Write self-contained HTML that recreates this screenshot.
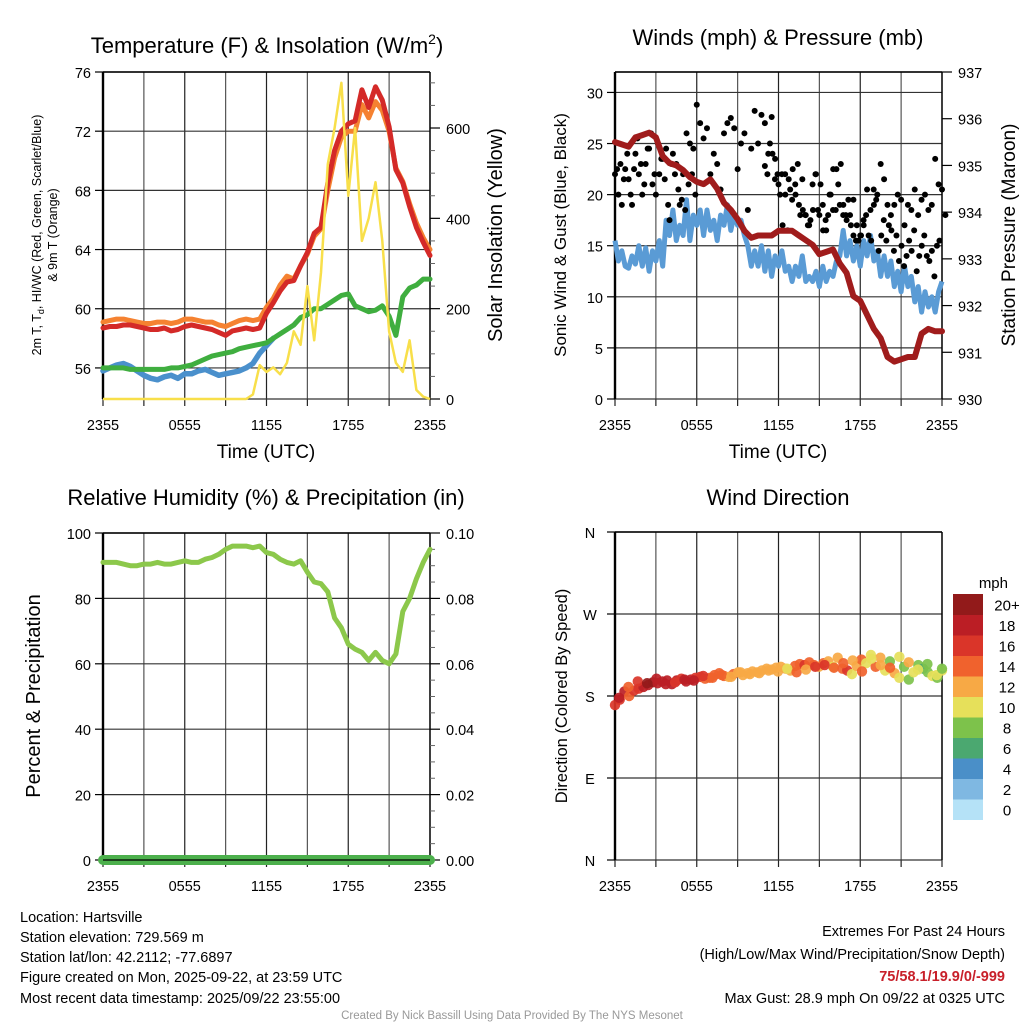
<!DOCTYPE html>
<html><head><meta charset="utf-8"><style>
html,body{margin:0;padding:0;background:#fff;}
svg{display:block;font-family:"Liberation Sans",sans-serif;}
</style></head><body>
<svg id="fig" width="1024" height="1024" viewBox="0 0 1024 1024" xmlns="http://www.w3.org/2000/svg">
<rect width="1024" height="1024" fill="#fff"/>
<g id="static" fill="#000">
<text x="267" y="53" font-size="22" text-anchor="middle">Temperature (F) &amp; Insolation (W/m<tspan dy="-9" font-size="14">2</tspan><tspan dy="9">)</tspan></text>
<text x="778" y="45" font-size="22" text-anchor="middle">Winds (mph) &amp; Pressure (mb)</text>
<text x="266" y="505" font-size="22" text-anchor="middle">Relative Humidity (%) &amp; Precipitation (in)</text>
<text x="778" y="505" font-size="22" text-anchor="middle">Wind Direction</text>
<text x="266" y="458" font-size="19" text-anchor="middle">Time (UTC)</text>
<text x="778" y="458" font-size="19" text-anchor="middle">Time (UTC)</text>
<text transform="translate(41,235) rotate(-90)" font-size="12.5" text-anchor="middle">2m T, T<tspan dy="3" font-size="9">d</tspan><tspan dy="-3">, HI/WC (Red, Green, Scarlet/Blue)</tspan></text>
<text transform="translate(57,235) rotate(-90)" font-size="12.5" text-anchor="middle">&amp; 9m T (Orange)</text>
<text transform="translate(502,235) rotate(-90)" font-size="20" text-anchor="middle">Solar Insolation (Yellow)</text>
<text transform="translate(566,235) rotate(-90)" font-size="17" text-anchor="middle">Sonic Wind &amp; Gust (Blue, Black)</text>
<text transform="translate(1015,235) rotate(-90)" font-size="19" text-anchor="middle">Station Pressure (Maroon)</text>
<text transform="translate(40,696) rotate(-90)" font-size="20" text-anchor="middle">Percent &amp; Precipitation</text>
<text transform="translate(567,696) rotate(-90)" font-size="16.5" text-anchor="middle">Direction (Colored By Speed)</text>
<text x="1008" y="588" font-size="15" text-anchor="end">mph</text>
<g font-size="14.5">
<text x="20" y="922">Location: Hartsville</text>
<text x="20" y="942">Station elevation: 729.569 m</text>
<text x="20" y="962">Station lat/lon: 42.2112; -77.6897</text>
<text x="20" y="982">Figure created on Mon, 2025-09-22, at 23:59 UTC</text>
<text x="20" y="1003">Most recent data timestamp: 2025/09/22 23:55:00</text>
</g>
<g font-size="14.5" text-anchor="end">
<text x="1005" y="936">Extremes For Past 24 Hours</text>
<text x="1005" y="959">(High/Low/Max Wind/Precipitation/Snow Depth)</text>
<text x="1005" y="981" fill="#c8202a" font-weight="bold">75/58.1/19.9/0/-999</text>
<text x="1005" y="1003">Max Gust: 28.9 mph On 09/22 at 0325 UTC</text>
</g>
<text x="512" y="1019" font-size="11.5" fill="#999" text-anchor="middle">Created By Nick Bassill Using Data Provided By The NYS Mesonet</text>
</g>
<g id="plots"></g>
</svg>
<script>
// ---------- data (half-hour steps, 0..48 from 2355 to 2355) ----------
var timeLabels = ["2355","0555","1155","1755","2355"];
var tempTicks = [56,60,64,68,72,76];
var solarTicks = [0,200,400,600];
var windTicks = [0,5,10,15,20,25,30];
var pressTicks = [930,931,932,933,934,935,936,937];
var rhTicks = [0,20,40,60,80,100];
var precipTicks = ["0.00","0.02","0.04","0.06","0.08","0.10"];
var dirTicks = ["N","E","S","W","N"];
var speedLevels = ["0","2","4","6","8","10","12","14","16","18","20+"];

var tempRed = [58.7,58.8,58.8,58.9,58.9,58.8,58.7,58.6,58.6,58.7,58.5,58.6,58.8,58.9,58.8,58.7,58.6,58.4,58.2,58.5,58.6,58.7,58.6,58.7,59.7,60.4,61.2,61.8,61.9,62.9,63.8,65.1,65.5,68.5,70.7,72.0,72.5,72.7,74.8,73.6,75.0,74.1,72.3,69.4,68.5,66.9,65.5,64.5,63.6];
var temp9m = [59.1,59.2,59.3,59.3,59.2,59.1,59.0,59.0,59.1,59.1,59.0,59.1,59.3,59.3,59.2,59.1,59.1,58.9,58.8,59.0,59.2,59.3,59.2,59.3,60.1,60.7,61.6,62.2,62.0,62.9,63.7,64.9,65.4,68.0,70.2,71.6,72.0,72.0,73.8,72.9,74.0,73.4,72.0,69.5,68.6,67.1,65.8,64.8,64.0];
var dewGreen = [56.0,56.0,56.0,56.0,55.9,55.9,55.9,55.9,55.9,55.9,56.0,56.0,56.1,56.2,56.4,56.6,56.8,56.9,57.0,57.1,57.3,57.4,57.5,57.6,57.7,58.0,58.3,58.6,58.9,59.4,59.6,60.0,60.0,60.3,60.6,60.9,61.0,60.2,60.0,59.8,59.9,60.2,59.5,58.2,60.8,61.4,61.6,62.0,62.0];
var wcBlue = [55.8,56.0,56.2,56.3,56.1,55.8,55.5,55.3,55.2,55.4,55.5,55.3,55.6,55.6,55.8,55.9,55.7,55.5,55.6,55.7,55.8,56.0,56.3,57.0,57.5,58.0];
var solar = [0,0,0,0,0,0,0,0,0,0,0,0,0,0,0,0,0,0,0,0,0,0,10,75,60,70,55,80,150,120,250,130,280,520,600,700,450,600,350,400,480,350,150,80,60,130,20,5,0];

// sonic wind at quarter-hour steps (0..96)
var windSpeed = [15.5,13.5,14.5,13.0,12.8,14.0,13.2,15.0,13.0,14.8,12.5,14.5,13.5,15.5,13.0,17.5,16.0,18.5,15.5,17.0,16.0,19.5,15.5,18.0,17.0,18.5,16.0,18.5,16.5,17.5,15.5,18.0,17.0,19.0,16.5,18.0,17.0,17.5,16.0,15.0,13.0,14.5,13.0,15.0,12.5,14.5,12.0,14.0,13.0,14.5,12.5,13.0,11.5,13.0,12.0,14.0,11.5,12.0,11.5,12.5,11.0,13.0,11.5,12.5,12.0,13.5,14.0,16.5,14.0,15.5,13.5,15.0,13.0,15.5,14.0,16.0,13.5,14.5,12.0,14.0,12.0,13.5,11.0,12.5,10.5,13.0,11.0,12.0,9.5,11.0,8.5,10.5,9.0,10.0,8.5,10.5,11.5];
var pressure = [935.5,935.45,935.4,935.6,935.65,935.7,935.6,935.2,935.05,935.0,934.9,934.75,934.65,934.6,934.7,934.5,934.2,934.05,933.85,933.6,933.45,933.5,933.5,933.5,933.6,933.6,933.6,933.5,933.4,933.3,933.1,933.15,933.2,932.9,932.7,932.2,932.1,931.8,931.5,931.3,930.9,930.8,930.85,930.9,930.9,931.4,931.5,931.45,931.45];
// gusts at quarter-hour steps (0..96)
var gusts = [22,20,19,22.5,21.5,19,24,22,20,23,24.5,21,20,22,23.5,24.5,17.5,24,23,19,22,26,25,24.5,28.8,27,25.5,26.5,22,24,23,20.5,26,27,27.5,26.5,22.5,25,26,18.5,24.5,28.2,25,27.8,22.8,24,27.6,23.5,21,22,20,21.5,19.5,20,19,21.5,18,17,21,22,18,19,16.5,20,18.5,22.5,19,18,17.5,18,19.5,17,16,17,20.5,18.5,19,20,23,21.5,19,18,19,20,19.5,17,19,18.5,20.5,18,19.5,20,18.5,19,23.5,21,20.5,18];
var gusts2 = [27,22,25,24,21.5,22,20,17,22,16.5,20.5,22.5,21,23,18,18.5,18,17,17.5,18.5,22,18.5,21,16.5,17.5,18,20,22.5,18.5,21,23,19,18,19.5,17,16,15.5,15.5,16,17.5,18,16,15.5,20.5,19.5,14.5,16,17.5,15.5,17,16.5,14.5,16,13.5,15,13,14,15.5,14.5,16.5,12.5,14,15,16,14,13.5,14.5,12,15,15.5];
var gusts3 = [22.5,23,21.5,24,20,22.5,25.5,23,21,24.5,26,22,25,23.5,21.5,19,23,22,20.5,19.5,18.5,21,22,20];

var rh = [91,91,91,90.5,90,90,90.5,90.5,91,90.5,90.5,91,91.5,91,91,92,92.5,93.5,95,96,96,96,95.5,96,94,93.5,92,91,90.5,91.5,88,85,84.5,82,74,71,66,64.5,63.5,61,63.5,61,60,63,76,80,86,91,95];
var precip = [0,0,0,0,0,0,0,0,0,0,0,0,0,0,0,0,0,0,0,0,0,0,0,0,0,0,0,0,0,0,0,0,0,0,0,0,0,0,0,0,0,0,0,0,0,0,0,0,0];

var dirVals = [170,176,185,180,186,188,190,192,195,194,196,197,193,197,199,196,198,200,201,199,200,203,205,202,201,204,206,203,205,207,206,208,210,209,211,212,210,208,213,215,214,217,214,212,216,218,212,222,210,208,204,213,220,216,225,212,222,208,218,205,200,212,198,206,214,210,206,202,200,208];
var dirSpeed = [17,16,18,15,17,16,18,19,20,18,19,18,19,18,17,19,18,17,16,15,15,14,14,15,13,14,13,12,13,13,12,12,13,12,12,12,13,12,14,15,16,15,14,12,15,13,11,12,14,16,11,12,15,10,10,14,12,11,9,12,11,8,9,10,8,7,9,10,9,11];
var dirVals2 = [178,190,196,194,199,193,195,198,197,202,200,203,201,206,204,205,208,207,210,206,209,212,214,211,216,219,207,221,214,211,223,217,209,215,203,210];
var dirSpeed2 = [18,15,17,20,19,18,17,19,18,16,15,14,13,12,12,13,12,12,11,14,13,16,16,15,14,12,14,11,13,15,10,12,11,8,10,9];

// ---------- helpers ----------
var NS = "http://www.w3.org/2000/svg";
var root = document.getElementById("plots");
function mk(tag, parent){ var e = document.createElementNS(NS, tag); (parent||root).appendChild(e); return e; }
function line(x1,y1,x2,y2,stroke,w,parent){ var l=mk("line",parent); l.setAttribute("x1",x1);l.setAttribute("y1",y1);l.setAttribute("x2",x2);l.setAttribute("y2",y2);l.setAttribute("stroke",stroke);l.setAttribute("stroke-width",w); return l; }
function txt(x,y,s,size,anchor,parent){ var t=mk("text",parent); t.setAttribute("x",x);t.setAttribute("y",y);t.setAttribute("font-size",size);t.setAttribute("text-anchor",anchor);t.textContent=s; return t; }
function lin(d0,d1,r0,r1){ return function(v){ return r0+(v-d0)*(r1-r0)/(d1-d0); }; }
function pathFrom(vals, xs, ys, step){ var d=""; for(var i=0;i<vals.length;i++){ d+=(i?"L":"M")+xs(i*step).toFixed(1)+","+ys(vals[i]).toFixed(1);} return d; }

function panelGrid(x0,x1,y0,y1,hLines,name){
  var g = mk("g");
  
  
  for(var i=0;i<=8;i++){ var x=x0+i*(x1-x0)/8; line(x,y0,x,y1,i%2?"#555":"#222",1.2,g); line(x,y1,x,y1+7,"#222",1.2,g); }
  hLines.forEach(function(y){ line(x0,y,x1,y,"#333",1.2,g); });
  line(x0,y0,x0,y1,"#000",2.4,g);
  line(x1,y0,x1,y1,"#000",1.4,g);
  line(x0,y0,x1,y0,"#000",1.4,g);
  for(var k=0;k<5;k++){ var t=txt(x0+k*(x1-x0)/4,y1+31,timeLabels[k],14.5,"middle",g);
    
     }
  return g;
}

// ---------- panel 1: temperature ----------
(function(){
  var X0=103,X1=430,Y0=72,Y1=399;
  var xs=lin(0,48,X0,X1), ys=lin(53.9,76,Y1,Y0), ss=lin(0,724,Y1,Y0);
  var hl=tempTicks.map(ys).concat([Y1]);
  var g=panelGrid(X0,X1,Y0,Y1,hl,"temperature-panel");
  tempTicks.forEach(function(v){ line(X0-8,ys(v),X0,ys(v),"#000",1.2,g); var t=txt(X0-12,ys(v)+6,String(v),14.5,"end",g);
      });
  solarTicks.forEach(function(v){ line(X1,ss(v),X1+10,ss(v),"#000",1.2,g); var t=txt(X1+16,ss(v)+6,String(v),14.5,"start",g);
      });
  for(var m=50;m<724;m+=50){ if(m%200) line(X1,ss(m),X1+5,ss(m),"#666",1,g); }
  function series(vals,color,w,name,step){ var p=mk("path",g); p.setAttribute("d",pathFrom(vals,xs,ys,step||1)); p.setAttribute("fill","none"); p.setAttribute("stroke",color); p.setAttribute("stroke-width",w); p.setAttribute("stroke-linejoin","round"); p.setAttribute("stroke-linecap","round");
    
     return p; }
  series(wcBlue,"#4a90cc",5.5,"windchill-blue-line");
  series(dewGreen,"#3fae3f",5,"dewpoint-green-line");
  series(temp9m,"#f58231",5,"temp-9m-orange-line");
  series(tempRed,"#d42a28",5,"temp-2m-red-line");
  var sp=mk("path",g); sp.setAttribute("d",pathFrom(solar,xs,ss,1)); sp.setAttribute("fill","none"); sp.setAttribute("stroke","#f8df4a"); sp.setAttribute("stroke-width",2.5); sp.setAttribute("stroke-linejoin","round");
  
  
})();

// ---------- panel 2: winds & pressure ----------
(function(){
  var X0=615,X1=942,Y0=72,Y1=399;
  var xs=lin(0,48,X0,X1), ws=lin(0,32,Y1,Y0), ps=lin(930,937,Y1,Y0);
  var hl=windTicks.map(ws).concat([Y0]);
  var g=panelGrid(X0,X1,Y0,Y1,hl,"winds-panel");
  windTicks.forEach(function(v){ line(X0-8,ws(v),X0,ws(v),"#000",1.2,g); var t=txt(X0-12,ws(v)+6,String(v),14.5,"end",g);
      });
  pressTicks.forEach(function(v){ line(X1,ps(v),X1+10,ps(v),"#000",1.2,g); var t=txt(X1+16,ps(v)+6,String(v),14.5,"start",g);
      });
  var wp=mk("path",g); wp.setAttribute("d",pathFrom(windSpeed,xs,ws,0.5)); wp.setAttribute("fill","none"); wp.setAttribute("stroke","#5a9bd5"); wp.setAttribute("stroke-width",5); wp.setAttribute("stroke-linejoin","round");
  
  
  gusts.forEach(function(v,i){ var c=mk("circle",g); c.setAttribute("cx",xs(i/2)); c.setAttribute("cy",ws(v)); c.setAttribute("r",3); c.setAttribute("fill","#000");
      });
  gusts2.forEach(function(v,i){ var c=mk("circle",g); c.setAttribute("cx",xs(22+i*26/gusts2.length)); c.setAttribute("cy",ws(v)); c.setAttribute("r",3); c.setAttribute("fill","#000");
      });
  gusts3.forEach(function(v,i){ var c=mk("circle",g); c.setAttribute("cx",xs(0.3+i*0.5)); c.setAttribute("cy",ws(v)); c.setAttribute("r",3); c.setAttribute("fill","#000");
      });
  var pp=mk("path",g); pp.setAttribute("d",pathFrom(pressure,xs,ps,1)); pp.setAttribute("fill","none"); pp.setAttribute("stroke","#a01c1c"); pp.setAttribute("stroke-width",6); pp.setAttribute("stroke-linejoin","round"); pp.setAttribute("stroke-linecap","round");
  
  
})();

// ---------- panel 3: RH & precip ----------
(function(){
  var X0=103,X1=430,Y0=533,Y1=860;
  var xs=lin(0,48,X0,X1), ys=lin(0,100,Y1,Y0);
  var hl=rhTicks.map(ys);
  var g=panelGrid(X0,X1,Y0,Y1,hl,"humidity-panel");
  rhTicks.forEach(function(v,i){ line(X0-8,ys(v),X0,ys(v),"#000",1.2,g); var t=txt(X0-12,ys(v)+6,String(v),14.5,"end",g);
     
    line(X1,ys(v),X1+10,ys(v),"#000",1.2,g); var t2=txt(X1+16,ys(v)+6,precipTicks[i],14.5,"start",g);
      });
  for(var m=5;m<100;m+=5){ if(m%20) line(X1,ys(m),X1+5,ys(m),"#666",1,g); }
  var pr=mk("path",g); pr.setAttribute("d",pathFrom(precip,xs,lin(0,0.1,Y1,Y0),1)); pr.setAttribute("fill","none"); pr.setAttribute("stroke","#4cb04c"); pr.setAttribute("stroke-width",10); pr.setAttribute("stroke-linecap","round");
  
  
  line(X0,Y1,X1,Y1,"#000",1.2,g);
  var p=mk("path",g); p.setAttribute("d",pathFrom(rh,xs,ys,1)); p.setAttribute("fill","none"); p.setAttribute("stroke","#8cc84b"); p.setAttribute("stroke-width",5); p.setAttribute("stroke-linejoin","round"); p.setAttribute("stroke-linecap","round");
  
  
})();

// ---------- panel 4: wind direction ----------
(function(){
  var X0=615,X1=942,Y0=532,Y1=860;
  var xs=lin(0,48,X0,X1), ds=lin(0,360,Y1,Y0);
  var colors=["#b5e2f7","#7fb8e2","#4a8fc8","#4ba870","#7dc24b","#e6e05a","#f7a945","#f0622d","#da3529","#bb1e25","#921a1a"];
  var hl=[0,90,180,270,360].map(ds);
  var g=panelGrid(X0,X1,Y0,Y1,hl,"direction-panel");
  dirTicks.forEach(function(s,i){ var y=ds(i*90); line(X0-8,y,X0,y,"#000",1.2,g); var t=txt(590,y+6,s,14.5,"middle",g);
      });
  function dots(vals,spd,offset){
    var step=48/(vals.length-1);
    vals.forEach(function(v,i){ var c=mk("circle",g); var k=Math.min(10,Math.floor(spd[i]/2)); c.setAttribute("cx",xs(Math.min(48,i*step+offset))); c.setAttribute("cy",ds(v)); c.setAttribute("r",5.2); c.setAttribute("fill",colors[k]); c.setAttribute("opacity","0.92");
        });
  }
  dots(dirVals,dirSpeed,0);
  dots(dirVals2,dirSpeed2,0.6);
  var lg=mk("g");
  
  
  var top=594, h=20.5;
  for(var i=0;i<11;i++){ var r=mk("rect",lg); var y=top+(10-i)*h; r.setAttribute("x",953); r.setAttribute("y",y); r.setAttribute("width",30); r.setAttribute("height",h+0.5); r.setAttribute("fill",colors[i]);
     
    var t=txt(1007,y+h/2+6,speedLevels[i],15,"middle",lg);
      }
})();
</script>
</body></html>
